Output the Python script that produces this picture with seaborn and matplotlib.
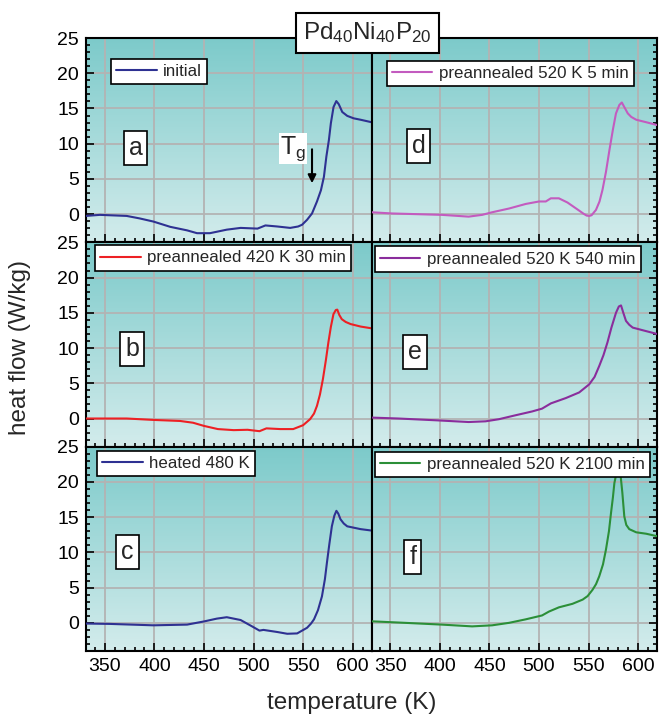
import numpy as np
import matplotlib
matplotlib.use("Agg")
import matplotlib.pyplot as plt
from matplotlib.colors import LinearSegmentedColormap
from matplotlib.ticker import MultipleLocator
import seaborn as sns

# heat flow curves (temperature in K, heat flow in W/kg)
temp_a = [331, 345, 372, 385, 399, 416, 433, 443, 456, 473, 487, 504, 512, 524, 537, 545,
          549, 554, 559, 564, 568, 571, 573.5, 576, 578, 580.7, 583.5, 586, 589.5, 594.5,
          601, 608, 619]
hf_a = [-0.25, -0.1, -0.25, -0.6, -1.05, -1.8, -2.3, -2.7, -2.7, -2.2, -1.95, -2.05, -1.6, -1.75, -1.95, -1.75,
        -1.5, -0.8, 0.1, 1.8, 3.4, 5.3, 8.2, 10.5, 12.9, 15.2, 16.05, 15.6, 14.5, 13.95,
        13.6, 13.4, 13.05]

temp_b = [331, 372, 399, 426, 439, 450, 464, 480, 494, 506, 513, 527, 540, 550, 557, 561,
          564, 567, 570, 573, 575.5, 578, 580.6, 583, 584.5, 586.5, 589, 593, 598, 608, 619]
hf_b = [0.0, 0.0, -0.2, -0.35, -0.6, -1.05, -1.5, -1.65, -1.6, -1.8, -1.4, -1.5, -1.5, -0.95, -0.1, 0.7,
        1.8, 3.4, 5.6, 8.3, 10.8, 13.0, 14.8, 15.4, 15.45, 14.7, 14.1, 13.7, 13.4, 13.05, 12.8]

temp_c = [331, 355, 399, 433, 450, 463, 473, 487, 498.5, 506, 510, 524, 534, 544, 554, 558,
          561, 565, 569, 572, 574, 576.5, 579, 581.5, 583.6, 585.5, 587.7, 591, 594.5, 608, 619]
hf_c = [-0.1, -0.15, -0.35, -0.25, 0.2, 0.6, 0.8, 0.4, -0.5, -1.1, -1.0, -1.3, -1.55, -1.5, -0.7, -0.1,
        0.5, 1.8, 3.75, 6.2, 8.5, 11.2, 13.7, 15.2, 15.9, 15.5, 14.7, 14.1, 13.7, 13.3, 13.1]

temp_d = [331, 351.6, 402, 429, 442.6, 452.7, 469.7, 486.6, 500, 506.8, 511.9, 520, 528.7, 540.5,
          545, 548, 550.6, 553, 557.4, 561, 564, 567.5, 571, 574.5, 577.6, 581, 583.5, 586,
          589.5, 593, 598, 608, 619]
hf_d = [0.27, 0.1, -0.1, -0.35, -0.1, 0.27, 0.8, 1.45, 1.8, 1.8, 2.25, 2.25, 1.65, 0.5,
        0.05, -0.2, -0.25, -0.15, 0.6, 1.8, 3.45, 6.0, 9.1, 12.0, 14.3, 15.5, 15.85, 15.2,
        14.3, 13.8, 13.4, 13.05, 12.65]

temp_e = [331, 358, 395.5, 429, 446, 459.5, 476, 493, 503, 512, 527, 540.5, 550.6, 556, 560.7,
          565, 569, 573, 577.6, 580.5, 582.7, 585, 587.7, 591, 594.5, 608, 619]
hf_e = [0.13, 0.0, -0.25, -0.5, -0.4, -0.1, 0.45, 1.0, 1.4, 2.15, 2.9, 3.7, 4.85, 5.9, 7.45,
        9.0, 10.8, 12.9, 15.0, 15.9, 16.05, 15.0, 13.85, 13.3, 12.9, 12.4, 12.0]

temp_f = [331, 365, 402, 432.5, 452.7, 469.7, 486.6, 503, 510, 520, 533.7, 544, 549, 554, 557.5,
          560.7, 564.5, 567.5, 570.5, 572.6, 574.5, 576, 578, 580, 582.2, 584, 586, 588, 591,
          598, 608, 619]
hf_f = [0.22, 0.0, -0.25, -0.5, -0.35, 0.0, 0.5, 1.05, 1.6, 2.2, 2.7, 3.3, 3.8, 4.7, 5.5,
        6.6, 8.3, 10.4, 13.0, 15.6, 17.8, 19.85, 21.2, 21.5, 21.0, 18.5, 15.1, 13.9, 13.3,
        12.85, 12.65, 12.3]

labels = ["initial", "preannealed 420 K 30 min", "heated 480 K",
          "preannealed 520 K 5 min", "preannealed 520 K 540 min", "preannealed 520 K 2100 min"]
letters = ["a", "b", "c", "d", "e", "f"]
colors = ["#2e3192", "#ed2024", "#2e3192", "#c35bbf", "#8a2d9c", "#2b8f38"]

sns.set_theme(style="ticks")
plt.rcParams["font.family"] = ["Liberation Sans", "DejaVu Sans"]
plt.rcParams["mathtext.fontset"] = "custom"
plt.rcParams["mathtext.rm"] = "Liberation Sans"
plt.rcParams["mathtext.it"] = "Liberation Sans"

fig, axes = plt.subplots(3, 2, sharex=True, sharey=True, figsize=(6.65, 7.17), dpi=100)
fig.subplots_adjust(left=0.1293, right=0.988, top=0.947, bottom=0.092, wspace=0, hspace=0)

bg = LinearSegmentedColormap.from_list("bg", ["#d3ecec", "#7ccaca"])
grad = np.linspace(0, 1, 256).reshape(-1, 1)

series = [(temp_a, hf_a), (temp_b, hf_b), (temp_c, hf_c),
          (temp_d, hf_d), (temp_e, hf_e), (temp_f, hf_f)]
leg_pos = [(0.087, 0.897), (0.031, 0.985), (0.038, 0.98),
           (0.053, 0.887), (0.011, 0.98), (0.011, 0.975)]
letter_pos = [(381, 9.4), (377.5, 9.8), (373, 10), (378.5, 9.7), (374.5, 9.4), (372.5, 9.4)]

for i in range(6):
    col, row = divmod(i, 3)
    ax = axes[row, col]
    ax.imshow(grad, extent=[0, 1, 0, 1], transform=ax.transAxes, origin="lower",
              aspect="auto", cmap=bg, zorder=0)
    t, h = series[i]
    sns.lineplot(x=t, y=h, ax=ax, color=colors[i], lw=1.5, label=labels[i], zorder=3)
    ax.set_xlim(331, 619)
    ax.set_ylim(-4, 25)
    ax.set_yticks([0, 5, 10, 15, 20, 25])
    ax.xaxis.set_major_locator(MultipleLocator(50))
    ax.xaxis.set_minor_locator(MultipleLocator(10))
    ax.yaxis.set_minor_locator(MultipleLocator(1))
    ax.grid(True, which="major", color="#b3b3b3", lw=1.3, zorder=1)
    ax.set_axisbelow(True)
    ax.tick_params(which="both", direction="in", top=False, bottom=True, width=1.2,
                   labelsize=14, colors="black", pad=5)
    ax.tick_params(which="major", length=6)
    ax.tick_params(which="minor", length=3)
    if col == 0:
        ax.tick_params(axis="y", which="both", left=True, right=False, labelleft=True)
    else:
        ax.tick_params(axis="y", which="both", left=False, right=True,
                       labelleft=False, labelright=False)
    for sp in ax.spines.values():
        sp.set_linewidth(1.5)
        sp.set_color("black")
    ax.set_xlabel("")
    ax.set_ylabel("")
    leg = ax.legend(loc="upper left", bbox_to_anchor=leg_pos[i], fontsize=12.2,
                    frameon=True, fancybox=False, framealpha=1, edgecolor="black",
                    borderaxespad=0, borderpad=0.3, handlelength=2.4, handletextpad=0.4)
    leg.get_frame().set_linewidth(1.2)
    leg.set_zorder(5)
    lx, ly = letter_pos[i]
    ax.text(lx, ly, letters[i], fontsize=18, ha="center", va="center", zorder=6,
            bbox=dict(boxstyle="square,pad=0.2", fc="white", ec="black", lw=1.2))

# Tg marker in panel a
ax = axes[0, 0]
ax.text(540, 9.3, r"T$_\mathrm{g}$", fontsize=18, ha="center", va="center", zorder=6,
        bbox=dict(boxstyle="square,pad=0.05", fc="white", ec="none"))
ax.annotate("", xy=(559, 4.0), xytext=(559, 9.6),
            arrowprops=dict(arrowstyle="-|>", color="black", lw=1.5, mutation_scale=12), zorder=6)

fig.text(0.553, 0.954, r"Pd$_{40}$Ni$_{40}$P$_{20}$", fontsize=17.5, ha="center", va="center",
         bbox=dict(boxstyle="square,pad=0.3", fc="white", ec="black", lw=1.5), zorder=10)
fig.text(0.529, 0.0195, "temperature (K)", fontsize=17.5, ha="center", va="center")
fig.text(0.030, 0.516, "heat flow (W/kg)", fontsize=17.5, ha="center", va="center", rotation=90)

fig.savefig("out.png", dpi=100)
